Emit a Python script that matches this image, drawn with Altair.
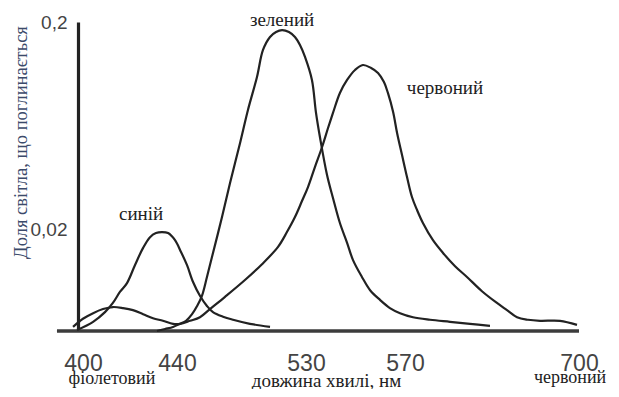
import altair as alt
import pandas as pd

# ---- data (wavelength, nm  /  fraction absorbed) ----
blue_nm = [399.6, 406.1, 410.9, 414.1, 417.0, 419.8, 423.0, 426.3, 429.1, 431.5,
           433.9, 436.4, 439.2, 442.8, 447.0, 451.2, 456.0, 460.9, 465.1, 472.1,
           479.1, 490.9, 504.9]
blue_val = [0.0002, 0.0018, 0.0037, 0.0055, 0.0077, 0.0094, 0.0129, 0.0163, 0.0184, 0.0192,
            0.0194, 0.0192, 0.0178, 0.0155, 0.0129, 0.0096, 0.0069, 0.0049, 0.0037, 0.0028,
            0.0022, 0.0014, 0.0008]

green_nm = [431.9, 435.2, 438.4, 442.1, 446.3, 450.5, 454.0, 457.4, 460.9, 464.4,
            471.4, 477.0, 484.0, 489.5, 495.8, 500.0, 504.9, 509.1, 513.3, 518.1,
            522.3, 525.8, 529.3, 532.4, 534.0, 535.7, 538.5, 540.9, 543.7, 546.6,
            549.0, 552.6, 555.9, 559.9, 563.9, 568.0, 576.0, 588.7, 603.6, 618.6,
            633.5]
green_val = [0.0000, 0.0004, 0.0008, 0.0014, 0.0020, 0.0033, 0.0049, 0.0069, 0.0106, 0.0145,
             0.0304, 0.0600, 0.0948, 0.1235, 0.1522, 0.1757, 0.1870, 0.1913, 0.1930, 0.1913,
             0.1870, 0.1800, 0.1696, 0.1496, 0.1217, 0.0991, 0.0670, 0.0470, 0.0252, 0.0173,
             0.0139, 0.0106, 0.0080, 0.0061, 0.0045, 0.0035, 0.0027, 0.0022, 0.0018, 0.0014,
             0.0010]

red_nm = [398.0, 402.0, 406.1, 410.1, 414.1, 418.2, 422.2, 426.3, 430.3, 434.3,
          438.4, 442.1, 449.1, 456.0, 463.0, 473.5, 487.4, 499.3, 510.5, 516.7,
          522.3, 527.2, 530.8, 533.6, 536.5, 538.9, 540.9, 543.7, 546.6, 549.8,
          553.0, 556.3, 559.1, 561.5, 563.1, 565.2, 566.8, 568.8, 571.5, 575.2,
          579.0, 583.4, 590.9, 598.4, 607.4, 616.3, 627.5, 638.7, 646.2, 653.7,
          661.9, 670.9, 685.8, 698.5]
red_val = [0.0008, 0.0024, 0.0035, 0.0043, 0.0047, 0.0045, 0.0041, 0.0033, 0.0025, 0.0020,
           0.0014, 0.0014, 0.0020, 0.0027, 0.0043, 0.0067, 0.0100, 0.0131, 0.0165, 0.0194,
           0.0304, 0.0443, 0.0565, 0.0739, 0.0913, 0.1078, 0.1209, 0.1383, 0.1496, 0.1583,
           0.1626, 0.1600, 0.1557, 0.1478, 0.1383, 0.1217, 0.1035, 0.0843, 0.0652, 0.0478,
           0.0365, 0.0252, 0.0178, 0.0153, 0.0127, 0.0106, 0.0078, 0.0055, 0.0041, 0.0027,
           0.0022, 0.0020, 0.0020, 0.0012]

x_ticks = [400, 440, 530, 570, 700]
y_ticks = [0.02, 0.2]
y_tick_labels = ["0,02", "0,2"]

axis_start_nm = [391.5]
axis_end_nm = [700]

# curve names next to the peaks
curve_text = ["синій", "зелений", "червоний"]
curve_nm = [425.5, 513.3, 599.9]
curve_val = [0.0278, 0.1966, 0.1374]

# colour names under the wavelength axis
band_text = ["фіолетовий", "червоний"]
band_nm = [413.7, 693.3]
band_val = [-0.0104, -0.0102]

x_title = "довжина хвилі, нм"
y_title = "Доля світла, що поглинається"

SERIF = "Liberation Serif, Times New Roman, serif"
SANS = "Liberation Sans, Arial, sans-serif"

# ---- tables ----
rows = []
for name, xs, ys in [("синій", blue_nm, blue_val),
                     ("зелений", green_nm, green_val),
                     ("червоний", red_nm, red_val)]:
    for i, (a, b) in enumerate(zip(xs, ys)):
        rows.append({"series": name, "nm": a, "value": b, "idx": i})
curves = pd.DataFrame(rows)
axis_df = pd.DataFrame({"nm": axis_start_nm, "nm2": axis_end_nm, "value": [0]})
curve_df = pd.DataFrame({"label": curve_text, "nm": curve_nm, "value": curve_val})
band_df = pd.DataFrame({"label": band_text, "nm": band_nm, "value": band_val})

# ---- scales (piecewise, as drawn in the original) ----
xscale = alt.Scale(domain=x_ticks, range=[0, 99, 228, 327, 501], nice=False, zero=False)
yscale = alt.Scale(domain=[0] + y_ticks, range=[323, 221, 14], nice=False, zero=False)

ylabel_expr = " : ".join(
    [f"datum.value == {v} ? '{l}'" for v, l in zip(y_ticks[:-1], y_tick_labels[:-1])]
    + [f"'{y_tick_labels[-1]}'"]
)

xaxis = alt.Axis(values=x_ticks, title=x_title, domain=False, ticks=False, grid=False,
                 labelFont=SANS, labelFontSize=23, labelColor="#444",
                 labelPadding=12, labelBaseline="top", labelFlush=False, labelOverlap=False,
                 labelOffset={"condition": {"test": "datum.value == 400", "value": 5}, "value": 0},
                 titleFont=SERIF, titleFontSize=19, titleFontWeight="normal",
                 titleColor="#222", titleX=248, titleY=46, titleAlign="center",
                 titleBaseline="alphabetic")
yaxis = alt.Axis(values=y_ticks, labelExpr=ylabel_expr, title=y_title, domain=True,
                 domainWidth=3.2, domainColor="#222", ticks=False, grid=False,
                 labelFont=SANS, labelFontSize=19, labelColor="#444",
                 labelPadding=11, labelBaseline="middle", labelFlush=False,
                 titleFont=SERIF, titleFontSize=18.5, titleFontWeight="normal",
                 titleColor="#3b4a6a", titleX=-58, titleY=134, titleAngle=-90,
                 titleAlign="center", titleBaseline="middle")

lines = alt.Chart(curves).mark_line(interpolate="catmull-rom", strokeWidth=2.2,
                                    color="#222").encode(
    x=alt.X("nm:Q", scale=xscale, axis=xaxis),
    y=alt.Y("value:Q", scale=yscale, axis=yaxis),
    detail="series:N",
    order="idx:Q",
)

base_rule = alt.Chart(axis_df).mark_rule(strokeWidth=3.6, color="#3c3c3c").encode(
    x="nm:Q", x2="nm2:Q", y="value:Q"
)

curve_labels = alt.Chart(curve_df).mark_text(font=SERIF, fontSize=19, color="#222",
                                             align="center", baseline="alphabetic").encode(
    x="nm:Q", y="value:Q", text="label:N"
)

band_labels = alt.Chart(band_df).mark_text(font=SERIF, fontSize=18, color="#222",
                                           align="center", baseline="alphabetic").encode(
    x="nm:Q", y="value:Q", text="label:N"
)

chart = alt.layer(base_rule, lines, curve_labels, band_labels).properties(
    width=502, height=332,
    autosize=alt.AutoSizeParams(type="none"),
    padding={"left": 70, "top": 0, "right": 28, "bottom": 49},
).configure_view(stroke=None)

chart.save("out.html", embed_options={"renderer": "svg", "actions": False})
